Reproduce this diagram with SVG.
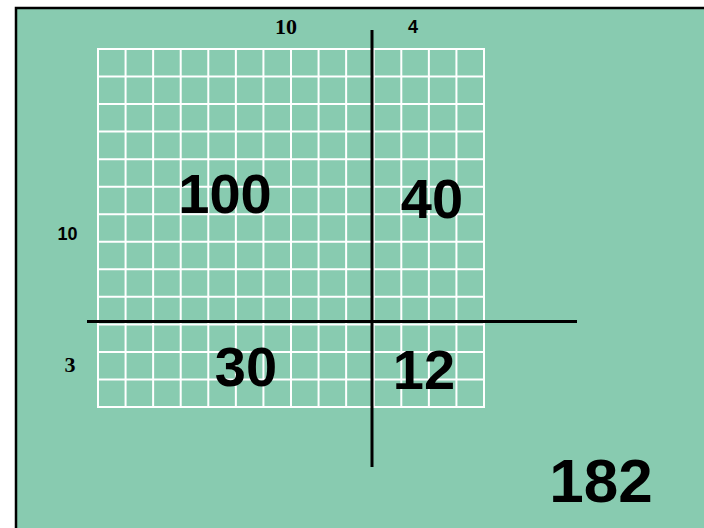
<svg xmlns="http://www.w3.org/2000/svg" width="704" height="528" viewBox="0 0 704 528">
<style>
.grid{stroke:#ffffff;stroke-width:2;fill:none}
.axis{stroke:#000000;stroke-width:3}
.big{font-family:"Liberation Sans",Arial,sans-serif;font-weight:bold;fill:#000;text-anchor:middle}
.ss{font-family:"Liberation Sans",Arial,sans-serif;font-weight:bold;font-size:18px;fill:#000;text-anchor:middle}
.sr{font-family:"Liberation Serif","Times New Roman",serif;font-weight:bold;font-size:22px;fill:#000;text-anchor:middle}
</style>
<rect x="0" y="0" width="704" height="528" fill="#ffffff"/>
<rect x="16" y="8" width="700" height="530" fill="#88cbb0" stroke="#000" stroke-width="2.5"/>
<g id="grid" class="grid">
<rect x="98" y="49" width="386" height="358"/>
<path d="M125.57 49V407M153.14 49V407M180.71 49V407M208.29 49V407M235.86 49V407M263.43 49V407M291 49V407M318.57 49V407M346.14 49V407M373.71 49V407M401.29 49V407M428.86 49V407M456.43 49V407"/>
<path d="M98 76.54H484M98 104.08H484M98 131.62H484M98 159.15H484M98 186.69H484M98 214.23H484M98 241.77H484M98 269.31H484M98 296.85H484M98 324.38H484M98 351.92H484M98 379.46H484"/>
</g>
<g id="axes">
<line class="axis" x1="372" y1="30" x2="372" y2="467"/>
<line class="axis" x1="87" y1="321.5" x2="577" y2="321.5"/>
</g>
<g id="labels">
<text class="sr" x="286" y="34">10</text>
<text class="ss" x="413" y="33">4</text>
<text class="ss" x="67.5" y="240">10</text>
<text class="sr" x="70" y="372">3</text>
</g>
<g id="products">
<text class="big" x="225" y="213" font-size="56">100</text>
<text class="big" x="432" y="218" font-size="56">40</text>
<text class="big" x="246" y="386" font-size="56">30</text>
<text class="big" x="424" y="389" font-size="56">12</text>
<text class="big" x="601" y="502" font-size="62">182</text>
</g>
</svg>
